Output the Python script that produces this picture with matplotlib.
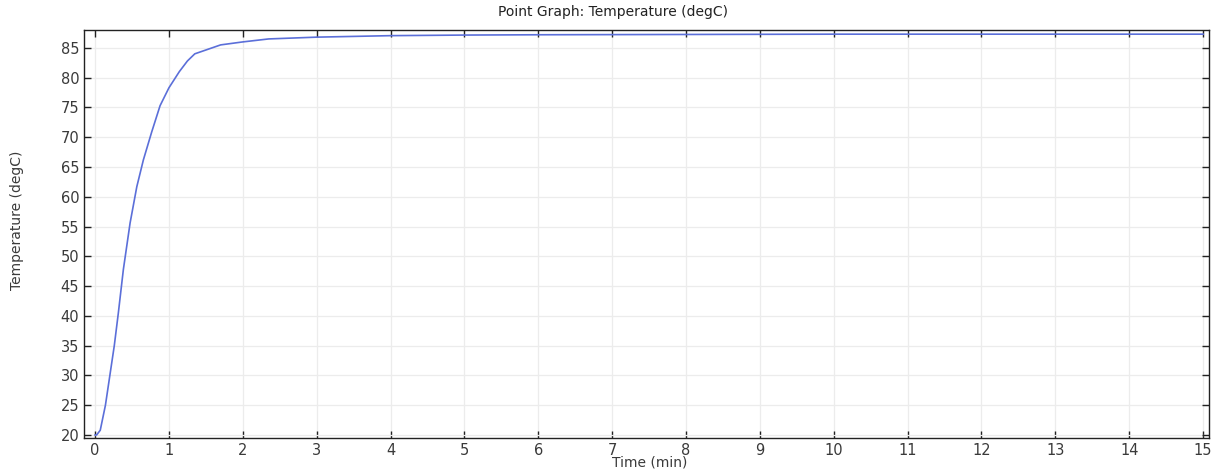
import matplotlib
matplotlib.use("Agg")
import matplotlib.pyplot as plt

time_min = [0.0, 0.02, 0.07, 0.14, 0.20, 0.26, 0.315, 0.383, 0.474, 0.565, 0.654, 0.767, 0.88,
            1.0, 1.14, 1.25, 1.35, 1.70, 2.0, 2.35, 3.0, 4.0, 5.0, 6.0, 8.0, 10.0, 12.0, 15.0]
temperature = [20.0, 20.0, 20.8, 25.0, 30.0, 35.0, 40.5, 47.8, 55.6, 61.7, 66.2, 70.9, 75.3,
               78.3, 81.0, 82.8, 84.0, 85.5, 86.0, 86.5, 86.8, 87.05, 87.15, 87.2, 87.25, 87.3, 87.3, 87.3]
x_ticks = list(range(0, 16))
y_ticks = list(range(20, 90, 5))

plt.rcParams['font.family'] = ['DejaVu Sans']

fig = plt.figure(figsize=(12.15, 4.75), dpi=100)
ax = fig.add_axes([84/1215, 1 - 438/475, (1209-84)/1215, (438-30)/475])

ax.plot(time_min, temperature, color='#5b6fd9', linewidth=1.2)

ax.set_xlim(-0.15, 15.08)
ax.set_ylim(19.5, 88.0)
ax.set_xticks(x_ticks)
ax.set_yticks(y_ticks)
ax.grid(True, color='#ececec', linewidth=0.9)
ax.set_axisbelow(True)
ax.tick_params(direction='in', length=5, width=1, colors='#222222', labelcolor='#3a3a3a',
               labelsize=10.5, top=True, right=True)
for s in ax.spines.values():
    s.set_color('#222222')
    s.set_linewidth(1.0)

fig.text(613/1215, 1 - 12/475, 'Point Graph: Temperature (degC)', ha='center', va='center',
         fontsize=10, color='#222222')
fig.text(650/1215, 1 - 463/475, 'Time (min)', ha='center', va='center', fontsize=10, color='#3a3a3a')
fig.text(17/1215, 1 - 220/475, 'Temperature (degC)', ha='center', va='center', rotation=90,
         fontsize=10, color='#3a3a3a')

fig.savefig('out.png', dpi=100, facecolor='white')
